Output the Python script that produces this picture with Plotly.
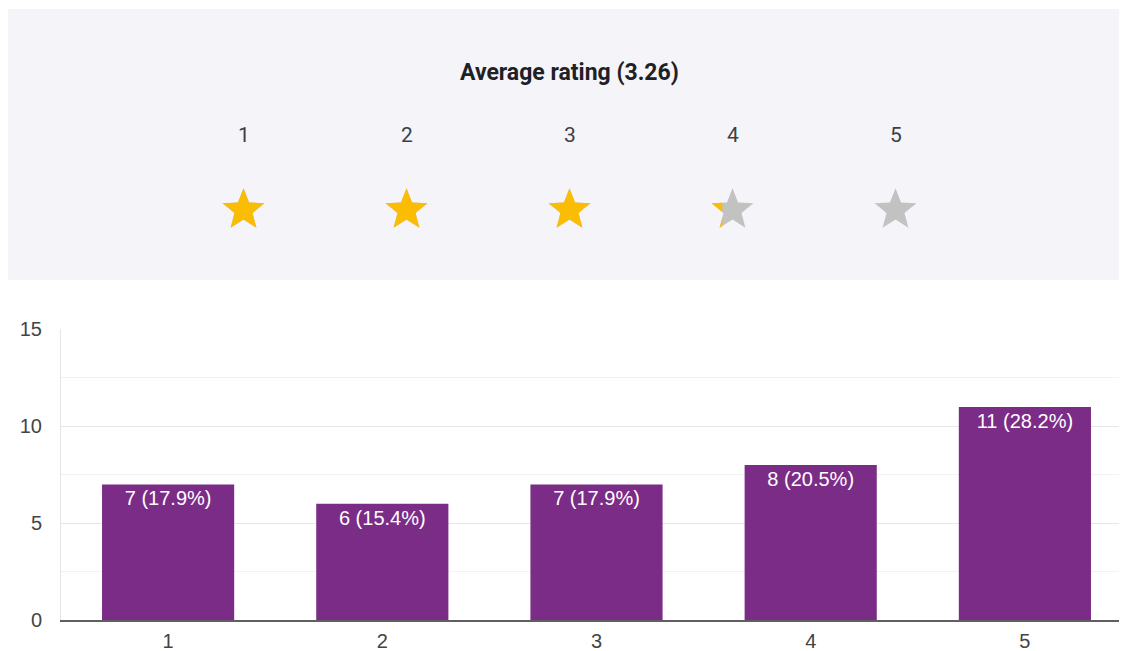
import numpy as np
import plotly.graph_objects as go

# ---------------- data ----------------
ratings = [1, 2, 3, 4, 5]
counts = [7, 6, 7, 8, 11]
y_ticks = [0, 5, 10, 15]
title_label = "Average rating"
bar_color = "#7b2c87"
star_on = "#fbbc04"
star_off = "#c2c2c2"

total = sum(counts)
pcts = [c / total * 100 for c in counts]
avg = sum(r * c for r, c in zip(ratings, counts)) / total
bar_labels = [f"{c} ({p:.1f}%)" for c, p in zip(counts, pcts)]

# ---------------- layout geometry (figure-local pixels; page adds 8px body margin) ----------------
W, H = 1127, 651
ML, MR, MT, MB = 53, 3, 11, 39
PW, PH = W - ML - MR, H - MT - MB
plot_bottom_px = H - MB   # 612
bar_top_px = 320          # local y of value 15
panel_top_px = -2
panel_bottom_px = 270     # local y of panel bottom
star_first_px, star_step_px = 235.5, 163

y_dom = [0, (plot_bottom_px - bar_top_px) / PH]
y2_dom = [(plot_bottom_px - panel_bottom_px) / PH, 1]
x2_range = [1 - (star_first_px - ML) / star_step_px, 1 + (W - MR - star_first_px) / star_step_px]
y2_range = [0, (panel_bottom_px - MT) / star_step_px]


def px_to_y2(py):
    return (panel_bottom_px - py) / star_step_px


def star_poly(cx, cy, R, ratio=0.43):
    k = np.arange(11)
    ang = np.pi / 2 + k * np.pi / 5
    rad = np.where(k % 2 == 0, R, R * ratio)
    return cx + rad * np.cos(ang), cy + rad * np.sin(ang)


def clip_left(xs, ys, xcut):
    pts = list(zip(xs[:-1], ys[:-1]))
    out = []
    n = len(pts)
    for i in range(n):
        p, q = pts[i], pts[(i + 1) % n]
        pin, qin = p[0] <= xcut, q[0] <= xcut
        if pin:
            out.append(p)
        if pin != qin:
            t = (xcut - p[0]) / (q[0] - p[0])
            out.append((xcut, p[1] + t * (q[1] - p[1])))
    if not out:
        return [], []
    out.append(out[0])
    return [o[0] for o in out], [o[1] for o in out]


fig = go.Figure()

fig.add_trace(go.Bar(
    x=ratings, y=counts, text=bar_labels,
    marker=dict(color=bar_color, line=dict(width=0)),
    textposition="inside", insidetextanchor="end", textangle=0,
    textfont=dict(color="white", size=20, family="Arial, Liberation Sans, sans-serif"),
    hoverinfo="skip", showlegend=False,
))

R = 22 / star_step_px
cy = px_to_y2(200)
for r in ratings:
    xs, ys = star_poly(r, cy, R)
    fig.add_trace(go.Scatter(x=xs, y=ys, xaxis="x2", yaxis="y2", mode="lines",
                             fill="toself", fillcolor=star_off, line=dict(width=0, color=star_off),
                             hoverinfo="skip", showlegend=False))
    frac = min(max(avg - (r - 1), 0), 1)
    if frac > 0:
        left = xs.min()
        cx_, cy_ = clip_left(xs, ys, left + frac * (xs.max() - left) + 1e-9)
        fig.add_trace(go.Scatter(x=cx_, y=cy_, xaxis="x2", yaxis="y2", mode="lines",
                                 fill="toself", fillcolor=star_on, line=dict(width=0, color=star_on),
                                 hoverinfo="skip", showlegend=False))

annotations = [dict(x=float(np.mean(ratings)), y=px_to_y2(62), xref="x2", yref="y2",
                    text=f"<b>{title_label} ({avg:.2f})</b>", showarrow=False,
                    font=dict(size=23, color="#202124", family="Roboto, sans-serif"))]
for r in ratings:
    annotations.append(dict(x=r, y=px_to_y2(125), xref="x2", yref="y2", text=str(r), showarrow=False,
                            font=dict(size=21, color="#3c4043", family="Roboto, sans-serif")))

fig.update_layout(
    width=W, height=H,
    margin=dict(l=ML, r=MR, t=MT, b=MB),
    paper_bgcolor="white", plot_bgcolor="white",
    bargap=0.383,
    font=dict(family="Arial, Liberation Sans, sans-serif", size=20, color="#444"),
    xaxis=dict(range=[0.5, 5.5], tickvals=ratings, ticktext=[str(r) for r in ratings],
               showgrid=False, zeroline=False, showline=True, linecolor="#5f5f5f", linewidth=1.5,
               ticklabelstandoff=2, tickfont=dict(size=20, color="#444"), anchor="y", fixedrange=True),
    yaxis=dict(domain=y_dom, range=[0, 15], tickvals=y_ticks, showgrid=True, gridcolor="#e6e6e6",
               minor=dict(dtick=2.5, showgrid=True, gridcolor="#f2f2f2"),
               zeroline=False, showline=True, linecolor="#e6e6e6", linewidth=1,
               ticklabelstandoff=14, tickfont=dict(size=20, color="#444"), fixedrange=True),
    xaxis2=dict(domain=[0, 1], range=x2_range, anchor="y2", visible=False, fixedrange=True),
    yaxis2=dict(domain=y2_dom, range=y2_range, anchor="x2", visible=False, fixedrange=True),
    shapes=[dict(type="rect", xref="paper", yref="paper", layer="below",
                 x0=(-2 - ML) / PW, x1=1.05,
                 y0=y2_dom[0], y1=(plot_bottom_px - panel_top_px) / PH,
                 fillcolor="#f4f4f9", line=dict(width=0))],
    annotations=annotations,
)

fig.write_html("out.html")
